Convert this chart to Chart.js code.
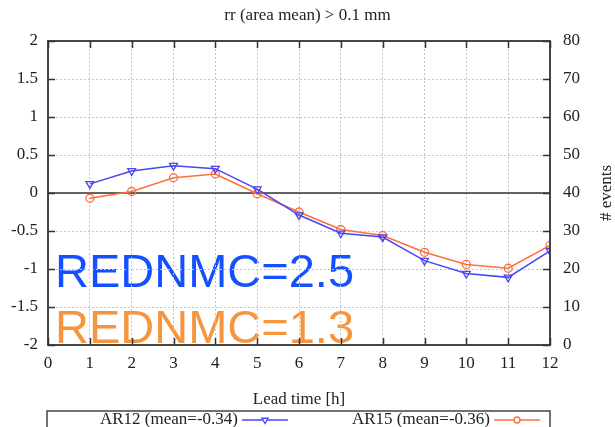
<!DOCTYPE html>
<html>
<head>
<meta charset="utf-8">
<title>rr (area mean) &gt; 0.1 mm</title>
<script src="https://cdn.jsdelivr.net/npm/chart.js@4/dist/chart.umd.min.js"></script>
<style>
  html, body { margin: 0; padding: 0; background: #fff; }
  #wrap { width: 615px; height: 427px; position: relative; }
</style>
</head>
<body>
<div id="wrap"><canvas id="skillChart"></canvas></div>
<script>
// lead times in hours
const leadTimes = [1, 2, 3, 4, 5, 6, 7, 8, 9, 10, 11, 12];
// skill per lead time for the two runs
const ar12Values = [0.12, 0.29, 0.36, 0.32, 0.05, -0.29, -0.53, -0.58, -0.89, -1.06, -1.11, -0.76];
const ar15Values = [-0.07, 0.02, 0.20, 0.25, -0.01, -0.25, -0.48, -0.56, -0.78, -0.94, -0.99, -0.69];
const seriesLabels = ['AR12 (mean=-0.34)', 'AR15 (mean=-0.36)'];
const seriesColors = ['#4646f2', '#ff6e3c'];
// big annotations inside the plot
const rednmcLabels = ['REDNMC=2.5', 'REDNMC=1.3'];
const rednmcColors = ['#1450ff', '#f7953f'];

const serif = "'Liberation Serif', 'Times New Roman', serif";
const textColor = '#222';

function toPoints(values) {
    return leadTimes.map((t, i) => ({ x: t, y: values[i] }));
}

// text behind everything
const backText = {
    id: 'backText',
    beforeDraw(chart) {
        const { ctx, chartArea } = chart;
        ctx.save();
        ctx.font = "47px 'Liberation Sans', Arial, sans-serif";
        ctx.textAlign = 'left';
        ctx.textBaseline = 'alphabetic';
        ctx.fillStyle = rednmcColors[0];
        ctx.fillText(rednmcLabels[0], chartArea.left + 7, chartArea.bottom - 58);
        ctx.fillStyle = rednmcColors[1];
        ctx.fillText(rednmcLabels[1], chartArea.left + 7, chartArea.bottom - 2);
        ctx.restore();
    }
};

// zero line, frame, inward ticks, right axis title, legend box
const frame = {
    id: 'frame',
    beforeDatasetsDraw(chart) {
        const { ctx, chartArea, scales } = chart;
        const y0 = scales.y.getPixelForValue(0);
        ctx.save();
        ctx.strokeStyle = '#333';
        ctx.lineWidth = 1.3;
        ctx.beginPath();
        ctx.moveTo(chartArea.left, y0);
        ctx.lineTo(chartArea.right, y0);
        ctx.stroke();
        ctx.restore();
    },
    afterDraw(chart) {
        const { ctx, chartArea, scales } = chart;
        const { left, right, top, bottom } = chartArea;
        const tick = 7;
        ctx.save();
        ctx.strokeStyle = '#333';
        ctx.lineWidth = 1.5;
        ctx.beginPath();
        scales.x.ticks.forEach(t => {
            const px = Math.round(scales.x.getPixelForValue(t.value)) + 0.5;
            ctx.moveTo(px, bottom); ctx.lineTo(px, bottom - tick);
            ctx.moveTo(px, top); ctx.lineTo(px, top + tick);
        });
        scales.y.ticks.forEach(t => {
            const py = Math.round(scales.y.getPixelForValue(t.value)) + 0.5;
            ctx.moveTo(left, py); ctx.lineTo(left + tick, py);
        });
        scales.y2.ticks.forEach(t => {
            const py = Math.round(scales.y2.getPixelForValue(t.value)) + 0.5;
            ctx.moveTo(right, py); ctx.lineTo(right - tick, py);
        });
        ctx.stroke();
        ctx.lineWidth = 1.8;
        ctx.strokeRect(left, top, right - left, bottom - top);

        // right axis title reads bottom to top
        ctx.fillStyle = textColor;
        ctx.font = '17px ' + serif;
        ctx.textAlign = 'center';
        ctx.textBaseline = 'middle';
        ctx.translate(607, (top + bottom) / 2);
        ctx.rotate(-Math.PI / 2);
        ctx.fillText('# events', 0, 0);
        ctx.restore();

        // legend
        ctx.save();
        ctx.strokeStyle = '#444';
        ctx.lineWidth = 1.5;
        ctx.strokeRect(left - 1, 411, right - left + 1, 30);
        ctx.font = '17px ' + serif;
        ctx.textAlign = 'right';
        ctx.textBaseline = 'middle';
        const cy = 420;
        const textEnds = [238, 490];
        chart.data.datasets.forEach((ds, i) => {
            const x0 = textEnds[i];
            ctx.fillStyle = textColor;
            ctx.fillText(ds.label, x0, cy);
            ctx.strokeStyle = ds.borderColor;
            ctx.lineWidth = 1.5;
            ctx.beginPath();
            ctx.moveTo(x0 + 4, cy);
            ctx.lineTo(x0 + 50, cy);
            ctx.stroke();
            ctx.fillStyle = '#fff';
            ctx.lineWidth = ds.pointBorderWidth;
            Chart.helpers.drawPoint(ctx, {
                pointStyle: ds.pointStyle,
                rotation: ds.pointRotation || 0,
                radius: ds.pointRadius - 1,
                borderWidth: ds.pointBorderWidth
            }, x0 + 27, cy);
        });
        ctx.restore();
    }
};

const gridStyle = { color: '#c4c4c4', lineWidth: 1, drawTicks: false };
const plainNumber = v => String(v);

new Chart(document.getElementById('skillChart'), {
    type: 'line',
    data: {
        datasets: [
            {
                label: seriesLabels[0],
                data: toPoints(ar12Values),
                borderColor: seriesColors[0],
                backgroundColor: 'rgba(0,0,0,0)',
                borderWidth: 1.5,
                pointStyle: 'triangle',
                pointRotation: 180,
                pointRadius: 4.5,
                pointBorderWidth: 1.3,
                pointBackgroundColor: 'rgba(0,0,0,0)',
                pointBorderColor: seriesColors[0],
                tension: 0
            },
            {
                label: seriesLabels[1],
                data: toPoints(ar15Values),
                borderColor: seriesColors[1],
                backgroundColor: 'rgba(0,0,0,0)',
                borderWidth: 1.5,
                pointStyle: 'circle',
                pointRadius: 4,
                pointBorderWidth: 1.3,
                pointBackgroundColor: 'rgba(0,0,0,0)',
                pointBorderColor: seriesColors[1],
                tension: 0
            }
        ]
    },
    options: {
        responsive: true,
        maintainAspectRatio: false,
        animation: false,
        layout: { padding: 0 },
        plugins: {
            legend: { display: false },
            tooltip: { enabled: false },
            title: {
                display: true,
                text: 'rr (area mean) > 0.1 mm',
                color: textColor,
                font: { family: serif, size: 17, weight: 'normal' },
                padding: { top: 5, bottom: 15.6 }
            }
        },
        scales: {
            x: {
                type: 'linear',
                min: 0,
                max: 12,
                ticks: { stepSize: 1, color: textColor, font: { family: serif, size: 17 }, padding: 8, maxRotation: 0, callback: plainNumber },
                grid: gridStyle,
                border: { display: false, dash: [2, 2] },
                title: {
                    display: true,
                    text: 'Lead time [h]',
                    color: textColor,
                    font: { family: serif, size: 17 },
                    padding: { top: 0, bottom: 17 }
                },
                afterFit(scale) { scale.height = 82; }
            },
            y: {
                position: 'left',
                min: -2,
                max: 2,
                ticks: { stepSize: 0.5, color: textColor, font: { family: serif, size: 17 }, padding: 10, callback: plainNumber },
                grid: gridStyle,
                border: { display: false, dash: [2, 2] },
                afterFit(scale) { scale.width = 48; }
            },
            y2: {
                position: 'right',
                min: 0,
                max: 80,
                ticks: { stepSize: 10, color: textColor, font: { family: serif, size: 17 }, padding: 13, callback: plainNumber },
                grid: { display: false, drawTicks: false },
                border: { display: false },
                afterFit(scale) { scale.width = 65; }
            }
        }
    },
    plugins: [backText, frame]
});
</script>
</body>
</html>
